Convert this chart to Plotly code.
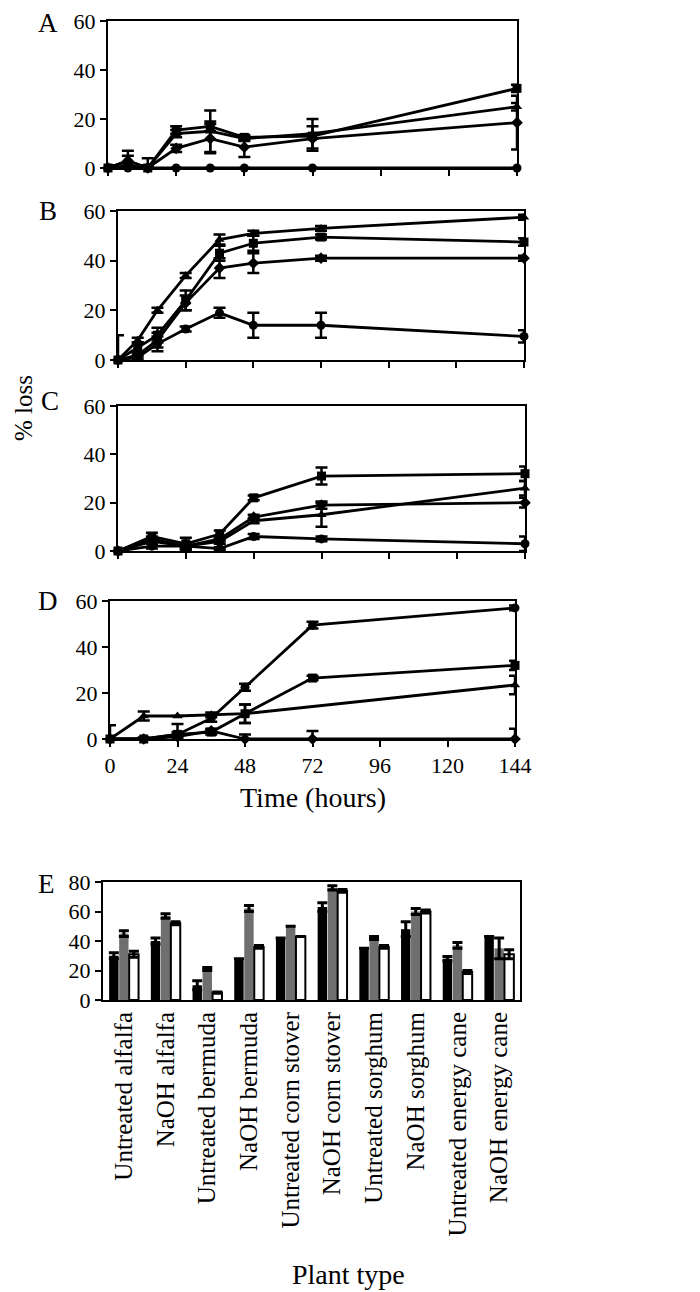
import plotly.graph_objects as go

# ---------------- data ----------------
t_ab = [0, 7, 14, 24, 36, 48, 72, 144]
t_cd = [0, 12, 24, 36, 48, 72, 144]

A_square = [0, 1, 0, 15.5, 17, 12.5, 13, 32.5]
A_square_err = [1, 1, 1, 1.5, 2, 1, 1, 1.5]
A_triangle = [0, 3, 0, 14, 15, 12, 14, 25]
A_triangle_err = [1, 4, 4, 1.5, 8.5, 1, 6, 1.5]
A_diamond = [0, 3, 0, 8, 12, 8.5, 12, 18.5]
A_diamond_err = [1, 2, 1, 1.5, 6, 4, 5, 11]
A_circle = [0, 0, 0, 0, 0, 0, 0, 0]
A_circle_err = [0, 0, 0, 0, 0, 0, 0, 0]

B_triangle = [0, 8, 20, 34, 48.5, 51, 53, 57.5]
B_triangle_err = [0, 1, 1, 1, 2, 1, 1, 1]
B_square = [0, 5, 10, 24, 43, 47, 49.5, 47.5]
B_square_err = [10, 2, 3, 4, 3, 3, 1, 1.5]
B_diamond = [0, 2, 8, 23, 37, 39, 41, 41]
B_diamond_err = [0, 1, 3, 3, 4, 4, 1, 1]
B_circle = [0, 1, 6.5, 12.5, 19, 14, 14, 9.5]
B_circle_err = [0, 1, 3, 1, 2, 5, 5, 2.5]

C_square = [0, 6, 3, 7, 22, 31, 32]
C_square_err = [0, 1.5, 2.5, 1.5, 1, 3.5, 3]
C_triangle = [0, 4, 2, 4, 12.5, 15, 26]
C_triangle_err = [0, 1, 1, 1, 1, 5, 3]
C_diamond = [0, 5, 2, 5, 14, 19, 20]
C_diamond_err = [0, 1, 1, 1, 1, 1.5, 2]
C_circle = [0, 2, 2, 1, 6, 5, 3]
C_circle_err = [0, 1, 1, 0.5, 1, 1, 3]

D_circle = [0, 0, 2, 9, 22.5, 49.5, 57]
D_circle_err = [6, 0.5, 1, 1.5, 1.5, 1.5, 1]
D_square = [0, 0, 2, 3, 11, 26.5, 32]
D_square_err = [0, 0.5, 4.5, 1, 4, 1, 2]
D_triangle = [0, 10, 10, 10.5, 11, None, 23.5]
D_triangle_err = [0, 2, 0, 1, 4, 0, 4]
D_diamond = [0, 0, 1, 3.5, 0, 0, 0]
D_diamond_err = [0, 0, 1, 1, 2, 3.5, 4.5]

plant_types = ["Untreated alfalfa", "NaOH alfalfa", "Untreated bermuda", "NaOH bermuda",
               "Untreated corn stover", "NaOH corn stover", "Untreated sorghum",
               "NaOH sorghum", "Untreated energy cane", "NaOH energy cane"]
E_black = [30, 40, 10, 28, 42, 63, 35, 48, 28, 43]
E_black_err = [2, 2, 3, 0, 0, 3, 0, 5, 1.5, 0]
E_gray = [45, 57, 21, 62, 50, 76, 42, 60, 37, 35]
E_gray_err = [2, 1.5, 1, 2, 0, 1.5, 1, 2, 2, 7]
E_white = [31, 52, 5, 36, 43, 74, 36, 60, 19, 31]
E_white_err = [2, 1, 0.5, 1, 0, 1, 1, 1, 1, 3]

time_ticks = [0, 24, 48, 72, 96, 120, 144]
loss_ticks = [0, 20, 40, 60]
bar_ticks = [0, 20, 40, 60, 80]

# ---------------- figure ----------------
W, H = 700, 1292
FONT = "Liberation Serif"


def xd(l, r):
    return [l / W, r / W]


def yd(t, b):
    return [1 - b / H, 1 - t / H]


fig = go.Figure()

panels = [
    ("x", "y", t_ab, [(A_square, A_square_err, "square"), (A_triangle, A_triangle_err, "triangle-up"),
                      (A_diamond, A_diamond_err, "diamond"), (A_circle, A_circle_err, "circle")]),
    ("x2", "y2", t_ab, [(B_triangle, B_triangle_err, "triangle-up"), (B_square, B_square_err, "square"),
                        (B_diamond, B_diamond_err, "diamond"), (B_circle, B_circle_err, "circle")]),
    ("x3", "y3", t_cd, [(C_square, C_square_err, "square"), (C_triangle, C_triangle_err, "triangle-up"),
                        (C_diamond, C_diamond_err, "diamond"), (C_circle, C_circle_err, "circle")]),
    ("x4", "y4", t_cd, [(D_circle, D_circle_err, "circle"), (D_square, D_square_err, "square"),
                        (D_triangle, D_triangle_err, "triangle-up"), (D_diamond, D_diamond_err, "diamond")]),
]

for xa, ya, tt, series in panels:
    for vals, errs, sym in series:
        fig.add_trace(go.Scatter(
            x=tt, y=vals, xaxis=xa, yaxis=ya, mode="lines+markers",
            line=dict(color="black", width=2.8), connectgaps=True,
            marker=dict(symbol=sym, size=9, color="black"),
            error_y=dict(type="data", array=errs, color="black", thickness=2.5, width=6),
            cliponaxis=False, showlegend=False))

for vals, errs, col in [(E_black, E_black_err, "black"), (E_gray, E_gray_err, "#6f6f6f"),
                        (E_white, E_white_err, "white")]:
    fig.add_trace(go.Bar(
        x=plant_types, y=vals, xaxis="x5", yaxis="y5",
        marker=dict(color=col, line=dict(color="black", width=2 if col == "white" else 0)),
        error_y=dict(type="data", array=errs, color="black", thickness=3, width=5),
        showlegend=False))

axis_common = dict(showline=True, linecolor="black", linewidth=2, mirror=True, ticks="outside",
                   ticklen=6, tickwidth=2, tickcolor="black", showgrid=False, zeroline=False,
                   tickfont=dict(family=FONT, size=22, color="black"), automargin=False)

geo = [  # (left, right, top, bottom) in pixels
    (100, 509, 13, 160),
    (110, 516, 203, 352),
    (110, 517, 398, 543),
    (102, 507, 593, 731),
]
layout = dict(width=W, height=H, margin=dict(l=0, r=0, t=0, b=0),
              paper_bgcolor="white", plot_bgcolor="white", template="none",
              barmode="group", bargap=0.28, bargroupgap=0.06, showlegend=False)

for i, (l, r, t, b) in enumerate(geo):
    sx = "" if i == 0 else str(i + 1)
    layout["xaxis" + sx] = dict(axis_common, domain=xd(l, r), range=[0, 144], tickvals=time_ticks,
                                showticklabels=(i == 3), anchor="y" + sx)
    layout["yaxis" + sx] = dict(axis_common, domain=yd(t, b), range=[0, 60], tickvals=loss_ticks,
                                anchor="x" + sx)

layout["xaxis5"] = dict(axis_common, domain=xd(95, 512), anchor="y5", ticks="",
                        tickangle=-90, tickfont=dict(family=FONT, size=25, color="black"))
layout["yaxis5"] = dict(axis_common, domain=yd(874, 992), range=[0, 80], tickvals=bar_ticks, anchor="x5")

ann = []
for letter, (px, py) in zip("ABCDE", [(40, 15), (40, 203), (42, 393), (40, 593), (38, 876)]):
    ann.append(dict(text=letter, x=px / W, y=1 - py / H, xref="paper", yref="paper",
                    xanchor="center", yanchor="middle", showarrow=False,
                    font=dict(family=FONT, size=27, color="black")))
ann.append(dict(text="% loss", x=15 / W, y=1 - 400 / H, xref="paper", yref="paper", textangle=-90,
                xanchor="center", yanchor="middle", showarrow=False,
                font=dict(family=FONT, size=25, color="black")))
ann.append(dict(text="Time (hours)", x=305 / W, y=1 - 790 / H, xref="paper", yref="paper",
                xanchor="center", yanchor="middle", showarrow=False,
                font=dict(family=FONT, size=28, color="black")))
ann.append(dict(text="Plant type", x=340 / W, y=1 - 1266 / H, xref="paper", yref="paper",
                xanchor="center", yanchor="middle", showarrow=False,
                font=dict(family=FONT, size=28, color="black")))
layout["annotations"] = ann

fig.update_layout(**layout)
fig.write_html("out.html")
